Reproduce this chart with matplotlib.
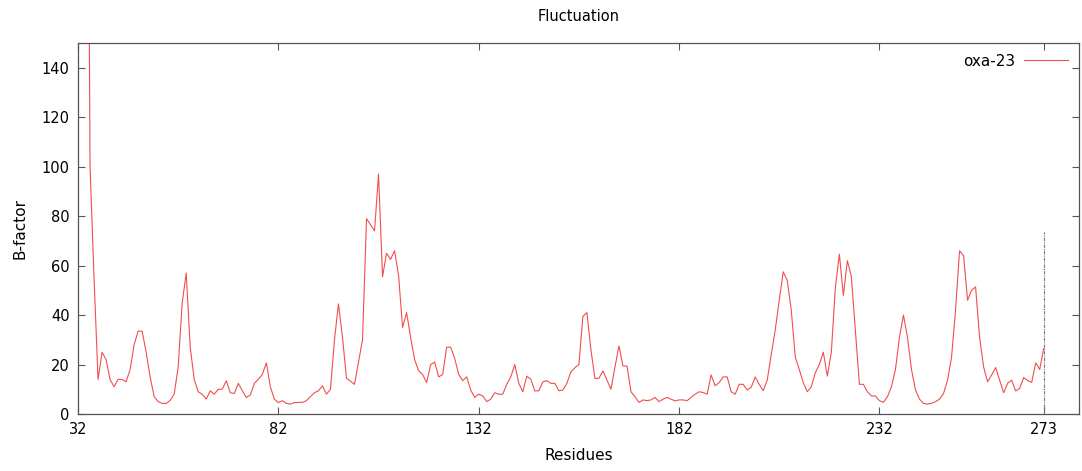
import numpy as np
import matplotlib
matplotlib.use("Agg")
import matplotlib.pyplot as plt

# ---- data ----
residues = list(range(34, 274))
bfactor = [
    400, 100, 55, 14, 25, 22,                                   # 34-39
    14, 11, 14, 14, 13, 18, 28, 33.5, 33.5, 25,                 # 40-49
    15, 7, 5, 4.3, 4.3, 5.5, 8, 19, 45, 57,                     # 50-59
    27, 14, 9, 8, 6, 9.4, 8, 10, 10, 13.5,                      # 60-69
    8.6, 8.3, 12.4, 9.4, 6.7, 7.7, 12.4, 14, 16, 20.7,          # 70-79
    11, 6, 4.6, 5.4, 4.3, 4, 4.6, 4.7, 4.7, 5.4,                # 80-89
    7, 8.6, 9.4, 11.4, 8, 10, 30, 44.5, 31, 14.5,               # 90-99
    13.3, 12, 21, 30, 79, 76.5, 74, 97, 55.5, 65,               # 100-109
    62.5, 66, 56, 35, 41, 31, 22, 17.5, 16, 12.7,               # 110-119
    20, 21, 15, 16, 27, 27, 22.5, 16, 13.5, 15,                 # 120-129
    9.7, 6.7, 8, 7.3, 5, 6, 8.6, 8, 8, 12,                      # 130-139
    15, 20, 12.4, 9, 15.3, 14, 9.3, 9.4, 13, 13.5,              # 140-149
    12.4, 12.4, 9.4, 9.7, 12.4, 17, 18.7, 20, 39.5, 41,         # 150-159
    26, 14.4, 14.4, 17.4, 13.7, 10, 19, 27.5, 19.4, 19.4,       # 160-169
    9, 7, 4.7, 5.7, 5.4, 5.7, 6.7, 5, 6, 6.7,                   # 170-179
    6, 5.3, 5.7, 5.7, 5.4, 6.7, 8, 9, 8.7, 8,                   # 180-189
    15.8, 11.4, 12.7, 15, 15, 9, 8, 12, 12, 9.7,                # 190-199
    10.8, 15, 12, 9.4, 13.7, 24, 34, 46, 57.5, 54,              # 200-209
    42, 23, 18, 12.7, 9, 11, 16.7, 20, 25, 15.3,                # 210-219
    25, 51, 64.6, 48, 62, 55.5, 34, 12, 12, 9,                  # 220-229
    7.3, 7.3, 5.4, 4.7, 7, 11, 18, 31, 40, 31,                  # 230-239
    18, 9.7, 6, 4.3, 4, 4.3, 5, 6, 8.3, 13.7,                   # 240-249
    23, 42, 66, 64, 46, 50, 51.4, 31, 19, 13,                   # 250-259
    15.8, 18.8, 13.7, 8.6, 12.4, 13.7, 9.3, 10.4, 14.8, 13.5,   # 260-269
    12.8, 20.7, 18, 26.5,                                       # 270-273
]
series_label = "oxa-23"
xtick_values = [32, 82, 132, 182, 232, 273]
ytick_values = [0, 20, 40, 60, 80, 100, 120, 140]
marker_x = 273
marker_top = 73.6

# ---- figure ----
plt.rcParams['font.family'] = ['DejaVu Sans']
fig = plt.figure(figsize=(10.82, 4.71), dpi=100)
ax = fig.add_axes([0.0721, 0.121, 0.9251, 0.7877])

ax.plot(residues, bfactor, color='#f24e4e', lw=0.8, label=series_label)
ax.vlines(marker_x, 0, marker_top, colors='#777777', linestyles=(0, (3, 1, 1, 1)), lw=0.8)

ax.set_xlim(32, 281.8)
ax.set_ylim(0, 150)
ax.set_xticks(xtick_values)
ax.set_yticks(ytick_values)
ax.tick_params(direction='in', top=True, right=True, length=5, width=0.8,
               color='#555555', labelsize=10.5, pad=6)
for s in ax.spines.values():
    s.set_color('#555555')
    s.set_linewidth(0.9)

ax.set_title("Fluctuation", fontsize=10.5, pad=16)
ax.set_xlabel("Residues", fontsize=11, labelpad=8)
ax.set_ylabel("B-factor", fontsize=11, labelpad=10)

leg = ax.legend(loc='upper right', frameon=False, markerfirst=False,
                handlelength=2.9, handletextpad=0.6, fontsize=11,
                borderaxespad=0.3, bbox_to_anchor=(1.0, 1.0))

fig.savefig("out.png", dpi=100)
